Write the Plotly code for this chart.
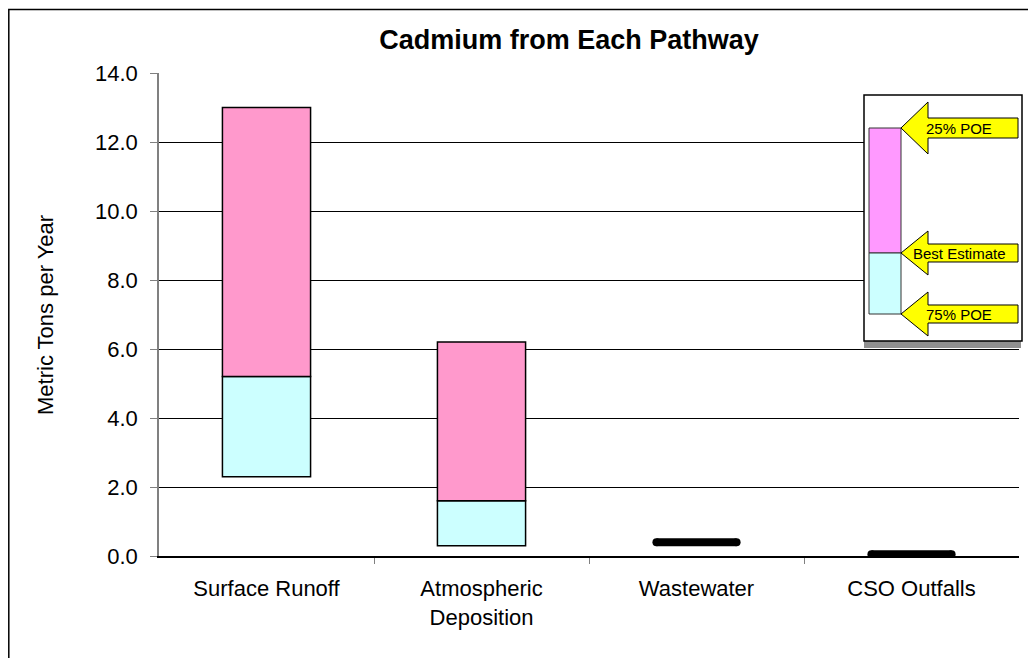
import plotly.graph_objects as go

# Data (metric tons per year)
pathways = ["Surface Runoff", "Atmospheric<br>Deposition", "Wastewater", "CSO Outfalls"]
poe_75 = [2.3, 0.3, 0.4, 0.05]
best_estimate = [5.2, 1.6, 0.4, 0.05]
poe_25 = [13.0, 6.2, 0.4, 0.05]

y_ticks = [0, 2, 4, 6, 8, 10, 12, 14]

# the page puts the plot 8px in from the top-left corner, so size the figure to fit
OFF = 8
PAGE_W, PAGE_H = 1036, 658
W, H = PAGE_W - OFF, PAGE_H - OFF
L, R, T, B = 159 - OFF, 17, 73 - OFF, 102
PW, PH = W - L - R, H - T - B


def px(x):
    # page pixel x -> paper coordinate
    return (x - OFF - L) / PW


def py(y):
    # page pixel y -> paper coordinate
    return (H - B - (y - OFF)) / PH


xs = list(range(len(pathways)))
bar_w = 0.41
has_range = [hi > lo for lo, hi in zip(poe_75, poe_25)]

fig = go.Figure()

# lower part of each range: 75% POE up to the best estimate
fig.add_trace(go.Bar(
    x=[x for x, r in zip(xs, has_range) if r],
    base=[lo for lo, r in zip(poe_75, has_range) if r],
    y=[b - lo for lo, b, r in zip(poe_75, best_estimate, has_range) if r],
    width=bar_w,
    marker=dict(color="#CCFFFF", line=dict(color="black", width=1.5)),
    hoverinfo="skip",
))
# upper part: best estimate up to 25% POE
fig.add_trace(go.Bar(
    x=[x for x, r in zip(xs, has_range) if r],
    base=[b for b, r in zip(best_estimate, has_range) if r],
    y=[hi - b for b, hi, r in zip(best_estimate, poe_25, has_range) if r],
    width=bar_w,
    marker=dict(color="#FF99CC", line=dict(color="black", width=1.5)),
    hoverinfo="skip",
))

# single-value pathways drawn as thick black dashes
half = bar_w / 2 - 4 / 215
for x, b, r in zip(xs, best_estimate, has_range):
    if r:
        continue
    fig.add_trace(go.Scatter(
        x=[x - half, x + half], y=[b, b],
        mode="lines+markers",
        line=dict(color="black", width=8),
        marker=dict(color="black", size=8),
        hoverinfo="skip",
    ))

shapes = []
# outer frame
shapes.append(dict(type="rect", xref="paper", yref="paper",
                   x0=px(8.8), x1=px(1045), y0=py(9.5), y1=py(670),
                   line=dict(color="black", width=1.5), layer="below"))

# legend box with a shadow along its bottom
shapes.append(dict(type="rect", xref="paper", yref="paper",
                   x0=px(864), x1=px(1021), y0=py(341), y1=py(348),
                   fillcolor="#909090", line=dict(width=0)))
shapes.append(dict(type="rect", xref="paper", yref="paper",
                   x0=px(864), x1=px(1022), y0=py(95), y1=py(341),
                   fillcolor="white", line=dict(color="black", width=1.5)))
shapes.append(dict(type="rect", xref="paper", yref="paper",
                   x0=px(869), x1=px(901), y0=py(128), y1=py(253),
                   fillcolor="#FF99FF", line=dict(color="#333333", width=1)))
shapes.append(dict(type="rect", xref="paper", yref="paper",
                   x0=px(869), x1=px(901), y0=py(253), y1=py(314),
                   fillcolor="#CCFFFF", line=dict(color="#333333", width=1)))

annotations = []
for tip_y, head, shaft, label in [(128, 26, 10, "25% POE"),
                                  (253, 22, 9, "Best Estimate"),
                                  (314, 22, 9, "75% POE")]:
    pts = [(901, tip_y), (928, tip_y - head), (928, tip_y - shaft),
           (1018, tip_y - shaft), (1018, tip_y + shaft), (928, tip_y + shaft),
           (928, tip_y + head)]
    path = "M " + " L ".join(f"{px(a):.5f},{py(b):.5f}" for a, b in pts) + " Z"
    shapes.append(dict(type="path", xref="paper", yref="paper", path=path,
                       fillcolor="#FFFF00", line=dict(color="black", width=1)))
    annotations.append(dict(xref="paper", yref="paper", x=px(959), y=py(tip_y),
                            text=label, showarrow=False, xanchor="center",
                            yanchor="middle",
                            font=dict(size=15, color="black")))

annotations.append(dict(xref="paper", yref="paper", x=px(45), y=py(315),
                        text="Metric Tons per Year", textangle=-90,
                        showarrow=False, xanchor="center", yanchor="middle",
                        font=dict(size=22, color="black")))

fig.update_layout(
    width=W, height=H,
    margin=dict(l=L, r=R, t=T, b=B),
    paper_bgcolor="white", plot_bgcolor="white",
    font=dict(family="Liberation Sans, Arial, sans-serif", color="black"),
    barmode="overlay",
    showlegend=False,
    title=dict(text="<b>Cadmium from Each Pathway</b>",
               font=dict(size=27, color="black"),
               xref="paper", x=px(569), xanchor="center",
               yref="container", y=1 - (40 - OFF) / H, yanchor="middle"),
    shapes=shapes,
    annotations=annotations,
)

fig.update_xaxes(
    range=[-0.5, len(pathways) - 0.5],
    tickvals=xs, ticktext=pathways,
    ticks="outside", ticklen=12, tickcolor="rgba(0,0,0,0)",
    tickfont=dict(size=22, color="black"),
    showline=True, linecolor="black", linewidth=1.5,
    showgrid=False, zeroline=False,
    minor=dict(tickvals=[x + 0.5 for x in xs[:-1]], ticks="outside",
               ticklen=6, tickcolor="#808080", showgrid=False),
)
fig.update_yaxes(
    range=[0, 14],
    tickvals=y_ticks, tickformat=".1f",
    ticks="outside", ticklen=7, tickcolor="#808080",
    tickfont=dict(size=22, color="black"),
    ticklabelstandoff=8,
    showline=True, linecolor="#808080", linewidth=1.5,
    showgrid=True, gridcolor="black", gridwidth=1,
    zeroline=False,
)

fig.write_html("out.html")
